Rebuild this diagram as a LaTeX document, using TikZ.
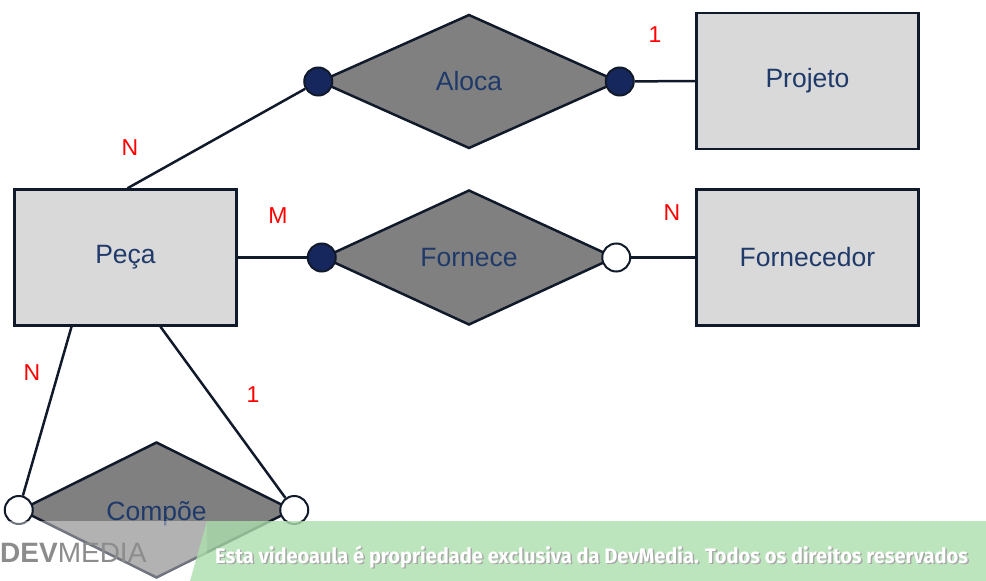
\documentclass[tikz,border=0pt]{standalone}
\usepackage{fontspec}
\setmainfont{Liberation Sans}
\newfontfamily\bannerfont{Fira Sans}
\usetikzlibrary{shapes.geometric}
\usetikzlibrary{positioning}

\definecolor{erline}{HTML}{111A2A}
\definecolor{ertext}{HTML}{1F3A6A}
\definecolor{erdot}{HTML}{16275E}
\definecolor{erbox}{HTML}{D9D9D9}
\definecolor{errel}{HTML}{808080}
\definecolor{bannergreen}{HTML}{ADDFAD}

\tikzset{
  entity/.style={draw=erline, fill=erbox, line width=2.5pt, minimum width=222pt, minimum height=136pt,
    text=ertext, font=\fontsize{26.5}{30}\selectfont},
  relation/.style={diamond, draw=erline, fill=errel, line width=2.5pt, inner sep=0pt,
    text=ertext, font=\fontsize{26.5}{30}\selectfont},
  dotfull/.style={circle, draw=erline, fill=erdot, line width=2pt, minimum size=28pt, inner sep=0pt},
  dotopen/.style={circle, draw=erline, fill=white, line width=2pt, minimum size=28pt, inner sep=0pt},
  card/.style={text=red, font=\fontsize{23}{26}\selectfont},
  link/.style={draw=erline, line width=2.5pt}
}

\begin{document}
\begin{tikzpicture}[x=1pt, y=-1pt]
  \useasboundingbox[fill=white] (0,0) rectangle (986,581);

  % entidades e relacionamentos
  \node [entity] (peca) at (125.5,257.5) {Peça};
  \node [relation, minimum width=292pt, minimum height=135pt, right=84pt of peca] (fornece) {Fornece};
  \node [entity, right=79pt of fornece] (fornecedor) {Fornecedor};
  \node [entity, above=38pt of fornecedor] (projeto) {Projeto};
  \node [relation, minimum width=299pt, minimum height=134pt, above=39pt of fornece] (aloca) {Aloca};
  \node [relation, minimum width=273pt, minimum height=136pt, below=114pt of peca, xshift=31pt] (compoe) {};
  \node [text=ertext, font=\fontsize{26.5}{30}\selectfont] (compoeTxt) at ([yshift=-4pt]compoe.center) {Compõe};

  % cardinalidades
  \node [dotfull] (alocaL) at (aloca.west) {};
  \node [dotfull] (alocaR) at (aloca.east) {};
  \node [dotfull] (forneceL) at (fornece.west) {};
  \node [dotopen] (forneceR) at (fornece.east) {};
  \node [dotopen] (compoeL) at (compoe.west) {};
  \node [dotopen] (compoeR) at (compoe.east) {};

  \draw [link] ([xshift=2pt]peca.north) -- (alocaL);
  \draw [link] (alocaR) -- (projeto.west);
  \draw [link] (peca.east) -- (forneceL);
  \draw [link] (forneceR) -- (fornecedor.west);
  \draw [link] ([xshift=-54pt]peca.south) -- (compoeL);
  \draw [link] ([xshift=35pt]peca.south) -- (compoeR);

  \node [card] (cAloca) at (130,148) {N};
  \node [card] (cProjeto) at (655,35) {1};
  \node [card] (cFornece) at (278,216) {M};
  \node [card] (cFornecedor) at (672,213) {N};
  \node [card] (cCompoeL) at (32,373) {N};
  \node [card] (cCompoeR) at (253,395) {1};

  % faixa do video
  \fill [white, opacity=0.4] (0,521) rectangle (207,581);
  \fill [bannergreen, opacity=0.8] (207,521) -- (986,521) -- (986,581) -- (190,581) -- cycle;
  \node [anchor=west, text=black!45, font=\fontsize{28}{30}\selectfont, inner sep=0pt] (logo) at (0,553) {\textbf{DEV}MEDIA};
  \node [anchor=west, text=black!35, font=\bannerfont\bfseries\fontsize{21}{24}\selectfont, inner sep=0pt, xscale=0.955] (shadow) at (216.5,558.5)
    {Esta videoaula é propriedade exclusiva da DevMedia. Todos os direitos reservados};
  \node [anchor=west, text=white, font=\bannerfont\bfseries\fontsize{21}{24}\selectfont, inner sep=0pt, xscale=0.955] (banner) at (215,557)
    {Esta videoaula é propriedade exclusiva da DevMedia. Todos os direitos reservados};
\end{tikzpicture}
\end{document}
